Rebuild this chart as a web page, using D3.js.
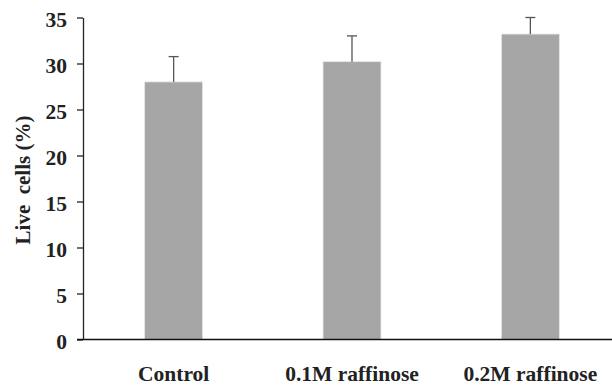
<!DOCTYPE html>
<html><head><meta charset="utf-8">
<script src="https://cdn.jsdelivr.net/npm/d3@7"></script>
<style>
body{margin:0;background:#fff;}
text{font-family:"Liberation Serif","Times New Roman",serif;font-weight:bold;fill:#222;}
</style></head>
<body><svg id="c" width="612" height="388"></svg>
<script>
const categories = ["Control", "0.1M raffinose", "0.2M raffinose"];
const values = [28.0, 30.2, 33.2];
const errors = [2.75, 2.8, 1.8];
const yTicks = [0, 5, 10, 15, 20, 25, 30, 35];

const svg = d3.select("#c");
const x0 = 83, yTop = 17.5, yBot = 339.5;
const y = d3.scaleLinear().domain([0, 35]).range([yBot, yTop]);
const x = d3.scaleBand().domain(categories).range([84, 620]).paddingInner(0.675).paddingOuter(0.34);

// bars
svg.selectAll("rect.bar").data(categories).enter().append("rect")
  .attr("x", d => x(d)).attr("width", x.bandwidth())
  .attr("y", (d,i) => y(values[i])).attr("height", (d,i) => y(0) - y(values[i]))
  .attr("fill", "#a6a6a6").attr("stroke", "#e6e6e6").attr("stroke-width", 0.8);

// error bars
const eg = svg.selectAll("g.err").data(categories).enter().append("g");
eg.append("line")
  .attr("x1", d => x(d) + x.bandwidth()/2).attr("x2", d => x(d) + x.bandwidth()/2)
  .attr("y1", (d,i) => y(values[i])).attr("y2", (d,i) => y(values[i] + errors[i]))
  .attr("stroke", "#555").attr("stroke-width", 1.3);
eg.append("line")
  .attr("x1", d => x(d) + x.bandwidth()/2 - 5).attr("x2", d => x(d) + x.bandwidth()/2 + 5)
  .attr("y1", (d,i) => y(values[i] + errors[i])).attr("y2", (d,i) => y(values[i] + errors[i]))
  .attr("stroke", "#555").attr("stroke-width", 1.3);

// y axis
const ya = svg.append("g").attr("transform", `translate(${x0},0)`)
  .call(d3.axisLeft(y).tickValues(yTicks).tickSize(6).tickPadding(10).tickSizeOuter(0));
ya.select(".domain").attr("stroke", "#222").attr("stroke-width", 1.3);
ya.selectAll(".tick line").attr("stroke", "#222").attr("stroke-width", 1.3);
ya.selectAll(".tick text").attr("font-size", 21.5).attr("font-family", "Liberation Serif").attr("font-weight", "bold").attr("fill", "#222").attr("dy", "0.42em");

// x axis line
svg.append("line").attr("x1", 77).attr("x2", 612).attr("y1", y(0)).attr("y2", y(0))
  .attr("stroke", "#111").attr("stroke-width", 1.5);

// category labels
svg.selectAll("text.cat").data(categories).enter().append("text")
  .attr("x", d => x(d) + x.bandwidth()/2).attr("y", 381)
  .attr("text-anchor", "middle").attr("font-size", 21.5).text(d => d);

// y title
svg.append("text").attr("transform", "translate(30,180) rotate(-90)")
  .attr("text-anchor", "middle").attr("font-size", 21).attr("xml:space","preserve").text("Live  cells (%)");
</script></body></html>
